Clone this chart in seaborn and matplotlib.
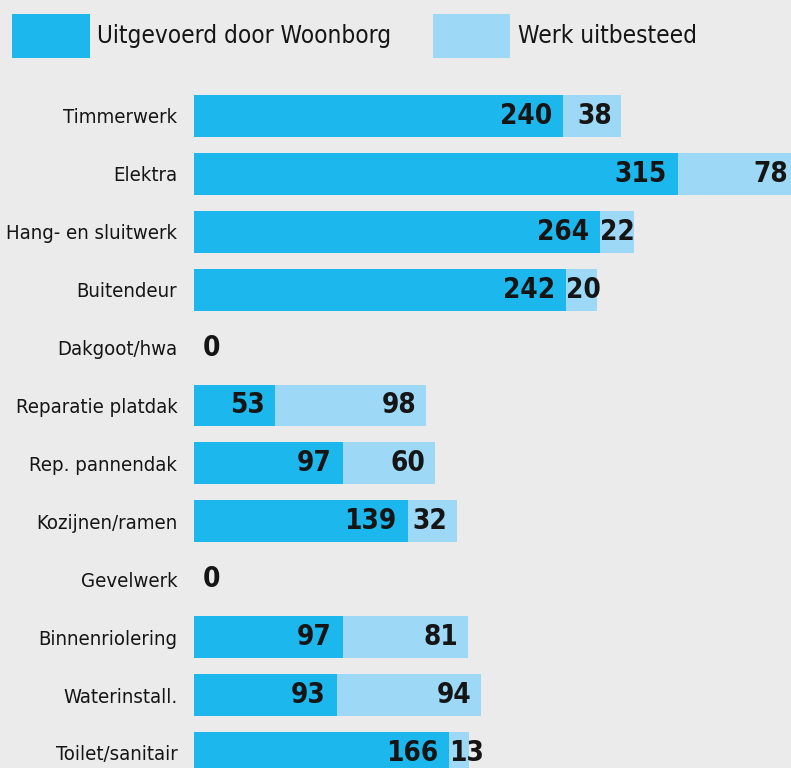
import matplotlib
matplotlib.use("Agg")
import matplotlib.pyplot as plt
from matplotlib.patches import Patch
import seaborn as sns
import pandas as pd

categories = [
    "Timmerwerk", "Elektra", "Hang- en sluitwerk", "Buitendeur", "Dakgoot/hwa",
    "Reparatie platdak", "Rep. pannendak", "Kozijnen/ramen", "Gevelwerk",
    "Binnenriolering", "Waterinstall.", "Toilet/sanitair",
]
eigen = [240, 315, 264, 242, 0, 53, 97, 139, 0, 97, 93, 166]
uitbesteed = [38, 78, 22, 20, 0, 98, 60, 32, 0, 81, 94, 13]
series_names = ["Uitgevoerd door Woonborg", "Werk uitbesteed"]

DARK = "#1cb7ec"
LIGHT = "#9dd8f6"
BG = "#ebebeb"
INK = "#151515"

sns.set_theme(style="white")
plt.rcParams["font.family"] = ["DejaVu Sans"]
plt.rcParams["font.stretch"] = "condensed"

df = pd.DataFrame({"categorie": categories, "eigen": eigen, "uitbesteed": uitbesteed})
df["totaal"] = df["eigen"] + df["uitbesteed"]

W, H = 791, 768
fig = plt.figure(figsize=(W / 100, H / 100), dpi=100, facecolor=BG)

left_px, top_px = 194, 87
ax = fig.add_axes([left_px / W, 0, 1 - left_px / W, 1 - top_px / H])
ax.set_facecolor(BG)

# light bar = total, dark bar on top = own work, giving a stacked look
sns.barplot(data=df, y="categorie", x="totaal", color=LIGHT, saturation=1,
            width=0.725, orient="h", linewidth=0, ax=ax)
sns.barplot(data=df, y="categorie", x="eigen", color=DARK, saturation=1,
            width=0.725, orient="h", linewidth=0, ax=ax)

ax.set_xlim(0, (W - left_px) / 1.537)
ax.set_ylim(11.26, -0.5)
ax.set_xlabel("")
ax.set_ylabel("")
ax.set_xticks([])
ax.tick_params(axis="y", length=0, pad=12, labelsize=14.6, labelcolor=INK)
for s in ax.spines.values():
    s.set_visible(False)

val_kw = dict(fontsize=20, fontweight="bold", color=INK, va="center",
              textcoords="offset points", annotation_clip=False)
for i, (a, b) in enumerate(zip(eigen, uitbesteed)):
    if a == 0 and b == 0:
        ax.annotate("0", (0, i), xytext=(6, 0), ha="left", **val_kw)
        continue
    ax.annotate(str(a), (a, i), xytext=(-8, 0), ha="right", **val_kw)
    if b >= 30:
        ax.annotate(str(b), (a + b, i), xytext=(-7, 0), ha="right", **val_kw)
    else:
        ax.annotate(str(b), (a, i), xytext=(0, 0), ha="left", **val_kw)

handles = [Patch(facecolor=DARK, edgecolor="none"), Patch(facecolor=LIGHT, edgecolor="none")]
fig.legend(handles, series_names, loc="upper left", bbox_to_anchor=(12 / W, 1 - 14 / H),
           ncol=2, frameon=False, fontsize=17.5, handlelength=3.2, handleheight=2.4,
           handletextpad=0.3, columnspacing=1.7, borderpad=0, borderaxespad=0,
           labelcolor=INK)

fig.savefig("out.png", dpi=100, facecolor=BG)
